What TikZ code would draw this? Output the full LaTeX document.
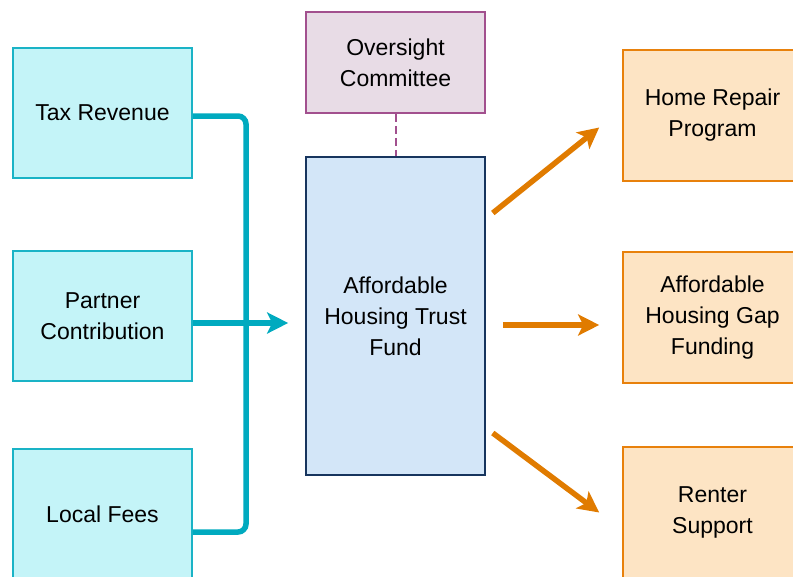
\documentclass[tikz,border=0pt]{standalone}
\usepackage{fontspec}
\setmainfont{Liberation Sans}
\usetikzlibrary{arrows.meta}

\definecolor{srcfill}{HTML}{C4F4F8}
\definecolor{srcline}{HTML}{1AB3C6}
\definecolor{feedline}{HTML}{00AABF}
\definecolor{overfill}{HTML}{E8DCE6}
\definecolor{overline}{HTML}{A2508E}
\definecolor{fundfill}{HTML}{D3E6F8}
\definecolor{fundline}{HTML}{17355E}
\definecolor{usefill}{HTML}{FDE4C4}
\definecolor{useline}{HTML}{E8810C}
\definecolor{outline}{HTML}{E07B00}

\begin{document}
\begin{tikzpicture}[x=1pt, y=-1pt,
    box/.style={draw, line width=1.6pt, minimum width=179pt, align=center,
        font=\fontsize{23}{31}\selectfont},
    srcbox/.style={box, draw=srcline, fill=srcfill, minimum height=130pt},
    overbox/.style={box, draw=overline, fill=overfill, minimum height=101pt},
    fundbox/.style={box, draw=fundline, fill=fundfill, minimum height=318pt},
    usebox/.style={box, draw=useline, fill=usefill, minimum height=131pt},
    feed/.style={draw=feedline, line width=5.5pt},
    outflow/.style={draw=outline, line width=5.5pt,
        -{Stealth[length=21pt, width=21pt, inset=5pt]}},
    oversee/.style={draw=overline, line width=2pt, dash pattern=on 8pt off 4pt}]
    \useasboundingbox (0,0) rectangle (793,576);
    \clip (0,0) rectangle (793,576);

    \node[srcbox] (tax) at (102.5,113) {Tax Revenue};
    \node[srcbox] (partner) at (102.5,316) {Partner\\Contribution};
    \node[srcbox] (fees) at (102.5,514) {Local Fees};

    \node[overbox] (over) at (395.5,62.5) {Oversight\\Committee};
    \node[fundbox] (fund) at (395.5,316) {Affordable\\Housing Trust\\Fund};

    \node[usebox] (repair) at (712.5,115.5) {Home Repair\\Program};
    \node[usebox] (gap) at (712.5,317.5) {Affordable\\Housing Gap\\Funding};
    \node[usebox] (renter) at (712.5,512.5) {Renter\\Support};

    \coordinate (bus) at (246,0);
    \coordinate (feesin) at ([shift={(0,18)}]fees.east);
    \draw[feed, rounded corners=8pt] ([shift={(0,3)}]tax.east) -- ([shift={(0,3)}]tax.east -| bus)
        -- (bus |- feesin) -- (feesin);
    \draw[feed, -{Stealth[length=21pt, width=21pt, inset=5pt]}]
        ([shift={(0,7)}]partner.east) -- ([shift={(-17,7)}]fund.west);

    \draw[oversee] (over) -- (fund);

    \draw[outflow] ([shift={(7,-103)}]fund.east) -- ([shift={(-23,12)}]repair.west);
    \draw[outflow] ([shift={(17,9)}]fund.east) -- ([shift={(-23,7.5)}]gap.west);
    \draw[outflow] ([shift={(7,117)}]fund.east) -- ([shift={(-23,0)}]renter.west);
\end{tikzpicture}
\end{document}
